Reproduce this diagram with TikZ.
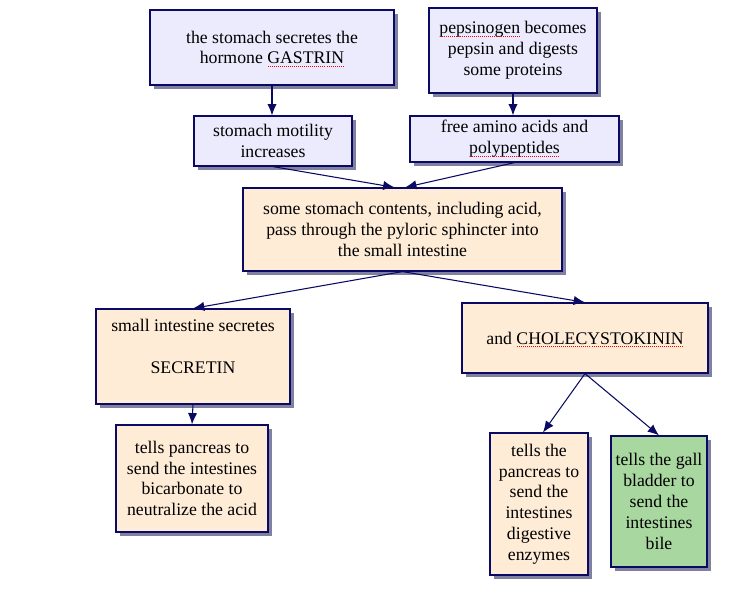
\documentclass[tikz,border=0pt]{standalone}
\usepackage{fontspec}
\setmainfont{Liberation Serif}
\usetikzlibrary{arrows.meta,shadows}
\definecolor{lavender}{RGB}{236,234,253}
\definecolor{peach}{RGB}{254,236,214}
\definecolor{leaf}{RGB}{168,216,160}
\definecolor{navy}{RGB}{10,10,100}
\definecolor{shade}{RGB}{128,128,160}
% red dotted spell-check line under a word
\newsavebox\spellbox
\newcommand\spell[1]{\sbox\spellbox{#1}\leavevmode\rlap{\usebox\spellbox}%
  \raisebox{-2.2pt}[0pt][0pt]{\color{red}\hbox to \wd\spellbox{\xleaders\hbox to 1.5pt{\hss\rule{0.7pt}{0.7pt}\hss}\hfill}}}
\begin{document}
\begin{tikzpicture}[x=0.75pt, y=-0.75pt,
    box/.style={draw=navy, line width=0.9pt, align=center, inner sep=2pt,
      font=\fontsize{13.3}{15.6}\selectfont,
      drop shadow={shadow xshift=3pt, shadow yshift=-3pt, fill=shade, opacity=1}},
    arr/.style={-{Latex[length=8.5pt,width=7pt]}, draw=navy, line width=0.8pt}]
  \useasboundingbox (0,0) rectangle (734,613);
  % stomach
  \node[box, fill=lavender, minimum width=183pt, minimum height=56.25pt] (gastrin) at (272,47.5) {the stomach secretes the\\hormone \spell{GASTRIN}};
  \node[box, fill=lavender, minimum width=126pt, minimum height=63.75pt] (pepsin) at (513,50.5) {\spell{pepsinogen} becomes\\pepsin and digests\\some proteins};
  \node[box, fill=lavender, minimum width=118.5pt, minimum height=37.5pt] (motility) at (273,141) {stomach motility\\increases};
  \node[box, fill=lavender, minimum width=156.75pt, minimum height=34.5pt] (amino) at (514.5,139) {free amino acids and\\\spell{polypeptides}};
  \node[box, fill=peach, minimum width=239.25pt, minimum height=62.25pt] (contents) at (402.5,229.5) {some stomach contents, including acid,\\pass through the pyloric sphincter into\\the small intestine};
  % small intestine
  \node[box, fill=peach, minimum width=145.5pt, minimum height=71.25pt] (secretin) at (193,356.5) {small intestine secretes\\\mbox{}\\SECRETIN\\\mbox{}};
  \node[box, fill=peach, minimum width=184.5pt, minimum height=52.5pt] (cck) at (585,338) {and \spell{CHOLECYSTOKININ}};
  \node[box, fill=peach, minimum width=114pt, minimum height=80.25pt] (bicarb) at (192,478.5) {tells pancreas to\\send the intestines\\bicarbonate to\\neutralize the acid};
  \node[box, fill=peach, minimum width=73.5pt, minimum height=106.5pt] (enzymes) at (539,504) {tells the\\pancreas to\\send the\\intestines\\digestive\\enzymes};
  \node[box, fill=leaf, minimum width=72pt, minimum height=98.25pt] (bile) at (659,501.5) {tells the gall\\bladder to\\send the\\intestines\\bile};

  \draw[arr] (gastrin.south) -- (gastrin.south |- motility.north);
  \draw[arr] (pepsin.south) -- (pepsin.south |- amino.north);
  \draw[arr] (motility.south) -- ([xshift=-6pt]contents.north);
  \draw[arr] (amino.south) -- ([xshift=2pt]contents.north);
  \draw[arr] (contents.south) -- (secretin.north);
  \draw[arr] (contents.south) -- (cck.north);
  \draw[arr] (secretin.south) -- (bicarb.north);
  \draw[arr] (cck.south) -- ([xshift=3pt]enzymes.north);
  \draw[arr] (cck.south) -- (bile.north);
\end{tikzpicture}
\end{document}
